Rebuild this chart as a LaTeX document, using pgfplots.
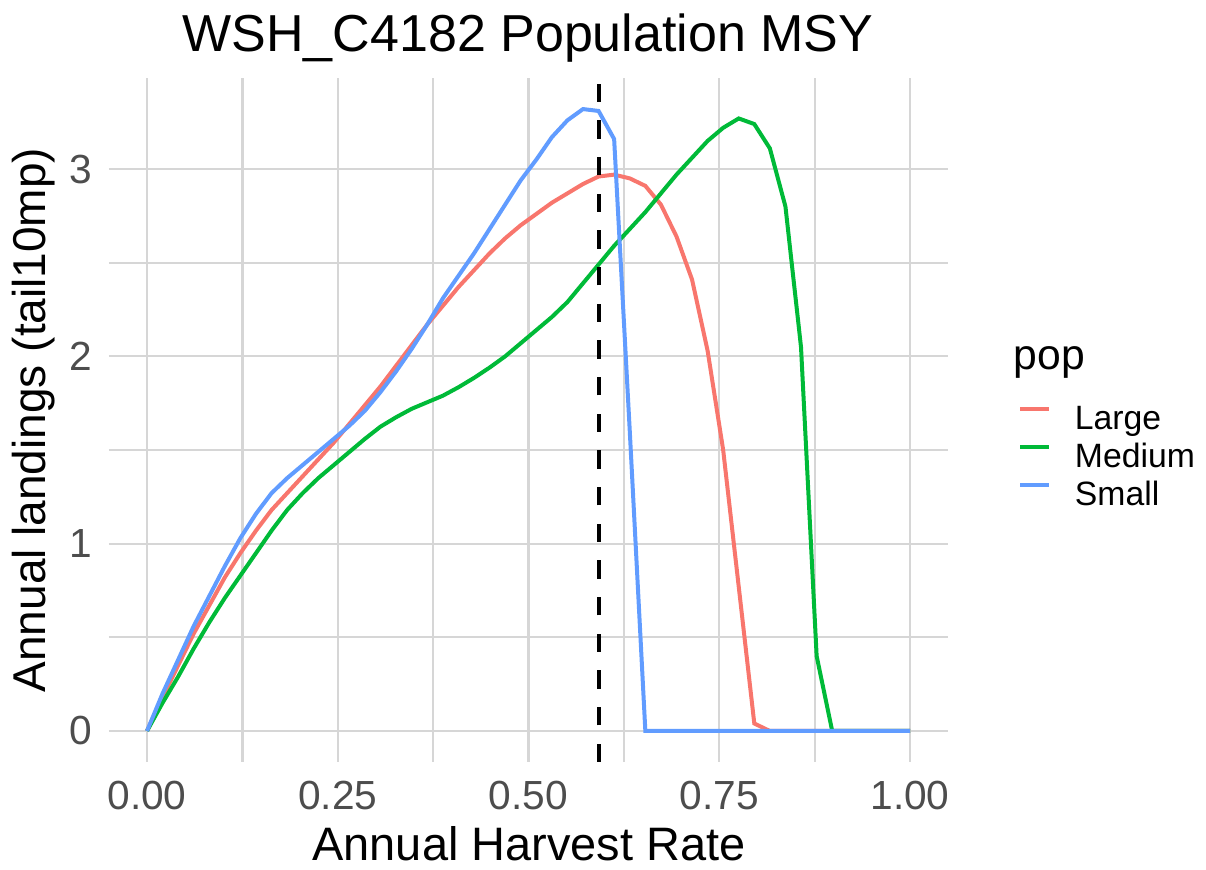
\documentclass[border=0pt]{standalone}
\usepackage{pgfplots}
\usepackage{pgfplotstable}
\pgfplotsset{compat=1.18}
\usepackage{fontspec}
\setmainfont{Liberation Sans}
\definecolor{cL}{HTML}{F8766D}
\definecolor{cM}{HTML}{00BA38}
\definecolor{cS}{HTML}{619CFF}
\definecolor{gridc}{HTML}{D6D6D6}
\definecolor{tickc}{HTML}{4D4D4D}

\pgfplotstableread{
x large medium small
0.0000 0.00 0.00 0.00
0.0204 0.18 0.15 0.20
0.0408 0.35 0.29 0.38
0.0612 0.52 0.44 0.56
0.0816 0.67 0.58 0.72
0.1020 0.82 0.71 0.88
0.1224 0.95 0.83 1.03
0.1429 1.07 0.95 1.16
0.1633 1.18 1.07 1.27
0.1837 1.27 1.18 1.35
0.2041 1.36 1.27 1.42
0.2245 1.45 1.35 1.49
0.2449 1.54 1.42 1.56
0.2653 1.64 1.49 1.63
0.2857 1.74 1.56 1.71
0.3061 1.84 1.625 1.81
0.3265 1.95 1.675 1.92
0.3469 2.06 1.72 2.04
0.3673 2.17 1.755 2.17
0.3878 2.27 1.79 2.31
0.4082 2.37 1.835 2.43
0.4286 2.46 1.885 2.55
0.4490 2.55 1.94 2.68
0.4694 2.63 2.00 2.81
0.4898 2.70 2.07 2.94
0.5102 2.76 2.14 3.05
0.5306 2.82 2.21 3.17
0.5510 2.87 2.29 3.26
0.5714 2.92 2.39 3.32
0.5918 2.96 2.49 3.31
0.6122 2.97 2.59 3.16
0.6327 2.95 2.68 1.60
0.6531 2.91 2.77 0.00
0.6735 2.81 2.87 0.00
0.6939 2.64 2.97 0.00
0.7143 2.41 3.06 0.00
0.7347 2.03 3.15 0.00
0.7551 1.50 3.22 0.00
0.7755 0.77 3.27 0.00
0.7959 0.04 3.24 0.00
0.8163 0.00 3.11 0.00
0.8367 0.00 2.80 0.00
0.8571 0.00 2.05 0.00
0.8776 0.00 0.40 0.00
0.8980 0.00 0.00 0.00
0.9184 0.00 0.00 0.00
0.9388 0.00 0.00 0.00
0.9592 0.00 0.00 0.00
0.9796 0.00 0.00 0.00
1.0000 0.00 0.00 0.00
}\msy

\begin{document}
\begin{tikzpicture}
\useasboundingbox (0,0) rectangle (904.5pt,652.5pt);
\begin{axis}[
  at={(81.64pt,81pt)}, anchor=south west,
  scale only axis, width=629.5pt, height=513pt,
  xmin=-0.05, xmax=1.05, ymin=-0.1655, ymax=3.486,
  axis line style={draw=none},
  major tick length=0pt,
  tick style={draw=none},
  xtick={0,0.125,0.25,0.375,0.5,0.625,0.75,0.875,1},
  xticklabels={0.00,,0.25,,0.50,,0.75,,1.00},
  ytick={0,0.5,1,1.5,2,2.5,3}, yticklabels={0,,1,,2,,3},
  xmajorgrids, ymajorgrids,
  major grid style={draw=gridc, line width=1.7pt},
  tick label style={font=\fontsize{30.5pt}{36pt}\selectfont, text=tickc, inner sep=0pt},
  xticklabel style={anchor=north, yshift=-14pt},
  yticklabel style={anchor=east, xshift=-12pt},
  legend style={at={(1.0785,0.527)}, anchor=north west, draw=none, fill=none,
    font=\fontsize{25.3pt}{30pt}\selectfont,
    nodes={inner sep=0pt, text height=19pt, text depth=5.5pt},
    row sep=4pt, column sep=17.5pt},
  legend cell align=left,
  legend image code/.code={\draw[#1, line width=3.2pt] (0pt,9pt) -- (21.75pt,9pt);},
]
\addplot[cL, line width=3pt] table[x=x, y=large] {\msy};
\addlegendentry{Large}
\addplot[cM, line width=3pt] table[x=x, y=medium] {\msy};
\addlegendentry{Medium}
\addplot[cS, line width=3pt] table[x=x, y=small] {\msy};
\addlegendentry{Small}
\addplot[black, line width=3pt, dash pattern=on 13.75pt off 13.75pt, forget plot] coordinates {(0.5918,-0.1655) (0.5918,3.486)};
\end{axis}
\node[anchor=base, font=\fontsize{39pt}{46pt}\selectfont, inner sep=0pt] at (396pt,614pt) {WSH\_C4182 Population MSY};
\node[anchor=base, font=\fontsize{35.2pt}{40pt}\selectfont, inner sep=0pt] at (396.75pt,7pt) {Annual Harvest Rate};
\node[anchor=base, rotate=90, font=\fontsize{34.5pt}{40pt}\selectfont, inner sep=0pt] at (34pt,337.5pt) {Annual landings (tail10mp)};
\node[anchor=base west, font=\fontsize{32pt}{38pt}\selectfont, inner sep=0pt] at (760pt,375pt) {pop};
\end{tikzpicture}
\end{document}
